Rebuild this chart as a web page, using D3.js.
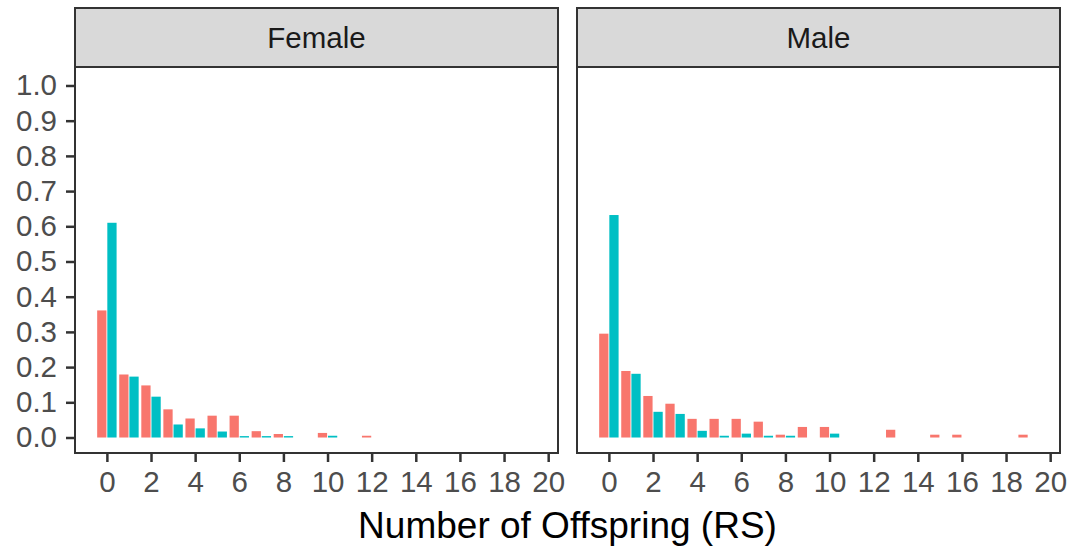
<!DOCTYPE html>
<html>
<head>
<meta charset="utf-8">
<script src="https://cdn.jsdelivr.net/npm/d3@7"></script>
<style>
  html, body { margin: 0; padding: 0; background: #fff; }
  svg { display: block; font-family: "Liberation Sans", Arial, sans-serif; }
</style>
</head>
<body>
<svg id="chart" width="1069" height="546"></svg>
<script>
// ---- data ----
const panels = ["Female", "Male"];
const femaleRedX    = [0, 1, 2, 3, 4, 5, 6, 7, 8, 10, 12];
const femaleRedY    = [0.361, 0.179, 0.148, 0.080, 0.054, 0.062, 0.062, 0.018, 0.010, 0.013, 0.005];
const femaleTealX   = [0, 1, 2, 3, 4, 5, 6, 7, 8, 10];
const femaleTealY   = [0.610, 0.173, 0.116, 0.037, 0.026, 0.017, 0.004, 0.004, 0.004, 0.005];
const maleRedX      = [0, 1, 2, 3, 4, 5, 6, 7, 8, 9, 10, 13, 15, 16, 19];
const maleRedY      = [0.295, 0.189, 0.118, 0.096, 0.053, 0.053, 0.053, 0.045, 0.008, 0.030, 0.030, 0.022, 0.008, 0.008, 0.008];
const maleTealX     = [0, 1, 2, 3, 4, 5, 6, 7, 8, 10];
const maleTealY     = [0.632, 0.181, 0.073, 0.067, 0.019, 0.005, 0.011, 0.005, 0.005, 0.011];
const xTicks = [0, 2, 4, 6, 8, 10, 12, 14, 16, 18, 20];
const yTicks = [0.0, 0.1, 0.2, 0.3, 0.4, 0.5, 0.6, 0.7, 0.8, 0.9, 1.0];
const xTitle = "Number of Offspring (RS)";

const seriesColors = ["#F8766D", "#00BFC4"];
const panelData = [
  [femaleRedX.map((x, i) => ({x, y: femaleRedY[i], s: 0})),
   femaleTealX.map((x, i) => ({x, y: femaleTealY[i], s: 1}))].flat(),
  [maleRedX.map((x, i) => ({x, y: maleRedY[i], s: 0})),
   maleTealX.map((x, i) => ({x, y: maleTealY[i], s: 1}))].flat()
];

// ---- layout ----
const svg = d3.select("#chart");
const panelLeft = [75, 577];
const panelW = 483;
const panelTop = 67, panelBottom = 453;
const stripTop = 8;
const dark = "#333333";
const smallFont = 29.5, titleFont = 37;

const y = d3.scaleLinear().domain([-0.044, 1.0525]).range([panelBottom, panelTop]);

panels.forEach((name, pi) => {
  const x0 = panelLeft[pi];
  const x = d3.scaleLinear().domain([-1.445, 20.445]).range([x0, x0 + panelW]);
  const g = svg.append("g");

  g.append("rect").attr("x", x0).attr("y", panelTop).attr("width", panelW)
    .attr("height", panelBottom - panelTop).attr("fill", "#fff");

  // bars (dodged)
  const half = 0.45, gap = 0.02;
  g.selectAll("rect.bar").data(panelData[pi]).join("rect")
    .attr("class", "bar")
    .attr("x", d => d.s === 0 ? x(d.x - half + 0.01) : x(d.x + gap))
    .attr("width", d => x(half - gap - 0.01) - x(0))
    .attr("y", d => y(d.y))
    .attr("height", d => y(0) - y(d.y))
    .attr("fill", d => seriesColors[d.s]);

  g.append("rect").attr("x", x0).attr("y", panelTop).attr("width", panelW)
    .attr("height", panelBottom - panelTop).attr("fill", "none")
    .attr("stroke", dark).attr("stroke-width", 2);

  // strip
  g.append("rect").attr("x", x0).attr("y", stripTop).attr("width", panelW)
    .attr("height", panelTop - stripTop).attr("fill", "#D9D9D9")
    .attr("stroke", dark).attr("stroke-width", 2);
  g.append("text").attr("x", x0 + panelW / 2).attr("y", 48)
    .attr("text-anchor", "middle").attr("font-size", smallFont).attr("fill", "#1A1A1A")
    .text(name);

  // x axis
  const xAxis = d3.axisBottom(x).tickValues(xTicks).tickSize(8).tickPadding(9)
    .tickFormat(d3.format("d"));
  const xa = g.append("g").attr("transform", `translate(0,${panelBottom + 1})`).call(xAxis);
  xa.select(".domain").remove();
  xa.selectAll(".tick line").attr("stroke", dark).attr("stroke-width", 2.5);
  xa.selectAll(".tick text").attr("font-size", smallFont).attr("fill", "#4D4D4D")
    .attr("font-family", "Liberation Sans, Arial, sans-serif");

  // y axis (left panel only)
  if (pi === 0) {
    const yAxis = d3.axisLeft(y).tickValues(yTicks).tickSize(8).tickPadding(9)
      .tickFormat(d3.format(".1f"));
    const ya = g.append("g").attr("transform", `translate(${x0 - 1},0)`).call(yAxis);
    ya.select(".domain").remove();
    ya.selectAll(".tick line").attr("stroke", dark).attr("stroke-width", 2.5);
    ya.selectAll(".tick text").attr("font-size", smallFont).attr("fill", "#4D4D4D")
      .attr("font-family", "Liberation Sans, Arial, sans-serif");
  }
});

// axis title
svg.append("text").attr("x", (panelLeft[0] + panelLeft[1] + panelW) / 2).attr("y", 538)
  .attr("text-anchor", "middle").attr("font-size", titleFont).attr("fill", "#000")
  .text(xTitle);
</script>
</body>
</html>
